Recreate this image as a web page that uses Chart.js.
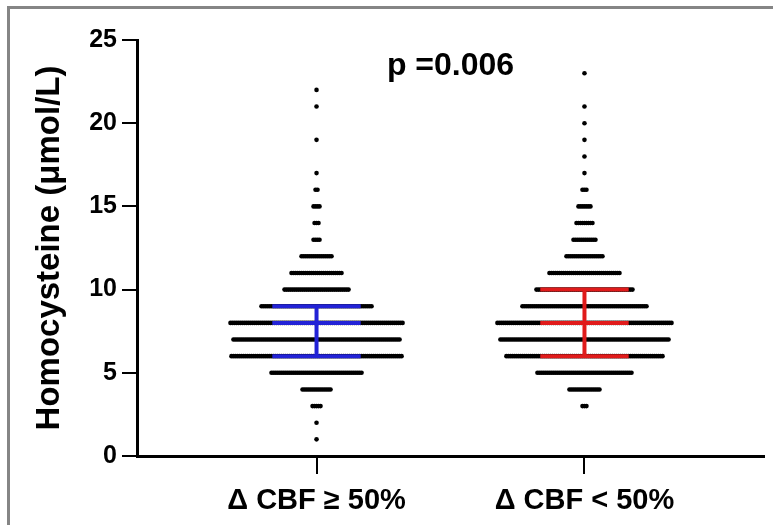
<!DOCTYPE html>
<html>
<head>
<meta charset="utf-8">
<script src="https://cdn.jsdelivr.net/npm/chart.js@4"></script>
<style>
    html, body { margin: 0; padding: 0; background: #fff; }
    #wrap { position: relative; width: 773px; height: 525px; overflow: hidden; }
    #frame { position: absolute; left: 7px; top: 6px; width: 800px; height: 600px;
             border-top: 3px solid #858585; border-left: 3px solid #858585; }
    #chart { position: absolute; left: 0; top: 0; }
</style>
</head>
<body>
<div id="wrap">
    <div id="frame"></div>
    <canvas id="chart" width="773" height="525"></canvas>
</div>
<script>
// Homocysteine levels, one dot per patient, stacked by level
const levels = [1, 2, 3, 4, 5, 6, 7, 8, 9, 10, 11, 12, 13, 14, 15, 16, 17, 18, 19, 20, 21, 22, 23];
const countsHigh = [1, 1, 5, 15, 46, 86, 84, 87, 56, 33, 26, 16, 4, 3, 4, 2, 1, 0, 1, 0, 1, 1, 0];
const countsLow  = [0, 0, 3, 16, 48, 79, 85, 88, 63, 49, 36, 19, 12, 9, 7, 3, 1, 1, 1, 1, 1, 0, 1];

const groupLabels = ['\u0394 CBF \u2265 50%', '\u0394 CBF < 50%'];
const groupPos = [1, 2];
const medians = [8, 8];
const q1 = [6, 6];
const q3 = [9, 10];
const barColors = ['#2222d6', '#e01b1b'];
const pText = 'p =0.006';

const DOT_STEP = 0.00747;   // horizontal spacing between dots (x units)
const CAP = 0.165;          // half width of median / IQR lines

function dotsFor(counts, center) {
    let pts = [];
    for (let l = 0; l < levels.length; l++) {
        let n = counts[l];
        for (let i = 0; i < n; i++) {
            pts.push({ x: center + (i - (n - 1) / 2) * DOT_STEP, y: levels[l] });
        }
    }
    return pts;
}

function segment(x1, y1, x2, y2, color) {
    return {
        type: 'line',
        data: [{ x: x1, y: y1 }, { x: x2, y: y2 }],
        borderColor: color,
        borderWidth: 4,
        pointRadius: 0,
        order: 0
    };
}

let datasets = [];
for (let g = 0; g < groupPos.length; g++) {
    let c = groupPos[g];
    let col = barColors[g];
    datasets.push(segment(c - CAP, q3[g], c + CAP, q3[g], col));
    datasets.push(segment(c - CAP, medians[g], c + CAP, medians[g], col));
    datasets.push(segment(c - CAP, q1[g], c + CAP, q1[g], col));
    datasets.push(segment(c, q1[g], c, q3[g], col));
}
datasets.push({
    type: 'scatter',
    data: dotsFor(countsHigh, groupPos[0]).concat(dotsFor(countsLow, groupPos[1])),
    backgroundColor: '#000',
    borderWidth: 0,
    pointRadius: 2.3,
    order: 1
});

const pLabel = {
    id: 'pLabel',
    afterDatasetsDraw: function (chart) {
        const ctx = chart.ctx;
        ctx.save();
        ctx.font = 'bold 32px "Liberation Sans", Arial, sans-serif';
        ctx.fillStyle = '#000';
        ctx.textAlign = 'center';
        ctx.textBaseline = 'alphabetic';
        ctx.fillText(pText, chart.scales.x.getPixelForValue(1.5), chart.scales.y.getPixelForValue(22.9));
        ctx.restore();
    }
};

new Chart(document.getElementById('chart'), {
    type: 'scatter',
    data: { datasets: datasets },
    plugins: [pLabel],
    options: {
        responsive: false,
        animation: false,
        layout: { padding: { left: 10, top: 40, right: 9, bottom: 0 } },
        plugins: {
            legend: { display: false },
            tooltip: { enabled: false }
        },
        scales: {
            x: {
                type: 'linear',
                min: 0.33,
                max: 2.67,
                afterBuildTicks: function (scale) {
                    scale.ticks = groupPos.map(v => ({ value: v }));
                },
                afterFit: function (scale) {
                    scale.height = 69;
                },
                ticks: {
                    color: '#000',
                    padding: 10,
                    maxRotation: 0,
                    autoSkip: false,
                    font: { family: '"Liberation Sans", Arial, sans-serif', size: 29, weight: 'bold' },
                    callback: function (value) {
                        return groupLabels[groupPos.indexOf(value)];
                    }
                },
                grid: { drawOnChartArea: false, drawTicks: true, tickLength: 18, color: '#000', lineWidth: 2 },
                border: { display: true, color: '#000', width: 3 }
            },
            y: {
                min: 0,
                max: 25,
                afterFit: function (scale) {
                    scale.width = 127;
                },
                ticks: {
                    stepSize: 5,
                    color: '#000',
                    padding: 5,
                    font: { family: '"Liberation Sans", Arial, sans-serif', size: 25, weight: 'bold' }
                },
                title: {
                    display: true,
                    text: 'Homocysteine (\u03bcmol/L)',
                    color: '#000',
                    padding: { top: 20, bottom: 0 },
                    font: { family: '"Liberation Sans", Arial, sans-serif', size: 33, weight: 'bold' }
                },
                grid: { drawOnChartArea: false, drawTicks: true, tickLength: 15, color: '#000', lineWidth: 2 },
                border: { display: true, color: '#000', width: 3 }
            }
        }
    }
});
</script>
</body>
</html>
